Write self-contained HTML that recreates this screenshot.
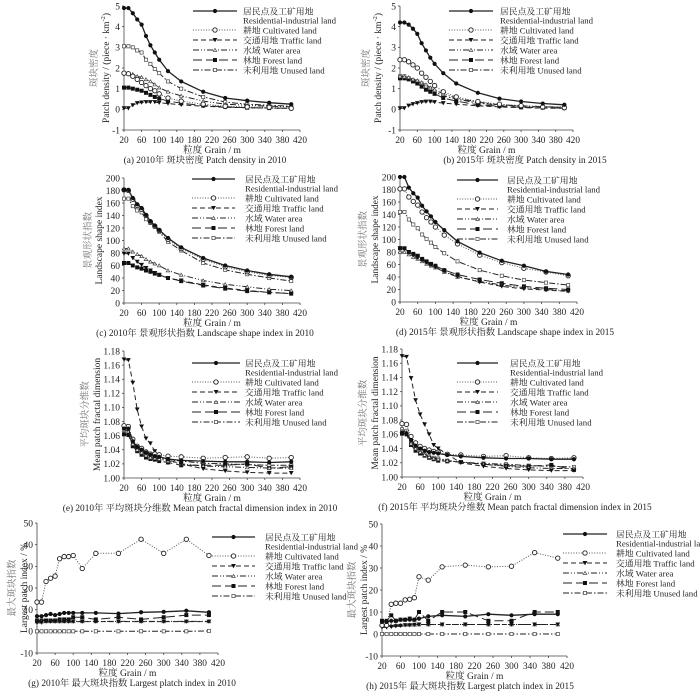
<!DOCTYPE html>
<html><head><meta charset="utf-8">
<style>
html,body{margin:0;padding:0;background:#fff;}
svg{display:block;}
text{font-family:"Liberation Serif","Noto Serif CJK SC",serif;fill:#222;}
</style></head>
<body>
<svg id="fig" width="700" height="692" viewBox="0 0 700 692" xmlns="http://www.w3.org/2000/svg"></svg>
<script>
const grains = [20,30,40,50,60,70,80,90,100,120,150,200,250,300,350,400];
const xTicks = [20,60,100,140,180,220,260,300,340,380,420];
const seriesNames = ["residential","cultivated","traffic","water","forest","unused"];
const legendCn = ["居民点及工矿用地","耕地","交通用地","水域","林地","未利用地"];
const legendEn = ["Residential-industrial land","Cultivated land","Traffic land","Water area","Forest land","Unused land"];

// (a) Patch density 2010
const pd2010_res = [4.9,4.9,4.65,4.35,4.1,3.55,3.1,2.75,2.4,1.85,1.35,0.85,0.55,0.42,0.32,0.25];
const pd2010_cult = [1.75,1.72,1.6,1.45,1.3,1.15,1.0,0.9,0.75,0.55,0.4,0.25,0.15,0.12,0.1,0.05];
const pd2010_traf = [0.05,0.05,0.2,0.3,0.33,0.35,0.35,0.35,0.32,0.28,0.22,0.15,0.1,0.08,0.06,0.05];
const pd2010_water = [1.75,1.75,1.7,1.6,1.55,1.45,1.35,1.2,1.05,0.85,0.65,0.4,0.25,0.2,0.15,0.12];
const pd2010_forest = [1.05,1.05,1.0,0.95,0.9,0.8,0.7,0.6,0.52,0.4,0.3,0.18,0.12,0.08,0.06,0.05];
const pd2010_unused = [3.05,3.05,3.0,2.85,2.75,2.4,2.2,1.95,1.75,1.35,1.0,0.6,0.35,0.25,0.2,0.15];
// (b) Patch density 2015
const pd2015_res = [4.2,4.2,4.1,3.9,3.65,3.2,2.85,2.5,2.2,1.75,1.25,0.8,0.52,0.38,0.28,0.22];
const pd2015_cult = [2.4,2.4,2.3,2.15,2.0,1.75,1.55,1.35,1.15,0.85,0.6,0.38,0.25,0.18,0.12,0.08];
const pd2015_traf = [0.05,0.05,0.18,0.25,0.3,0.35,0.37,0.37,0.35,0.3,0.25,0.17,0.12,0.08,0.06,0.05];
const pd2015_water = [1.6,1.58,1.55,1.45,1.4,1.3,1.2,1.05,0.95,0.75,0.55,0.35,0.22,0.17,0.13,0.1];
const pd2015_forest = [1.5,1.5,1.45,1.35,1.25,1.1,0.95,0.85,0.75,0.55,0.4,0.22,0.15,0.1,0.08,0.06];
const pd2015_unused = [1.6,1.6,1.5,1.4,1.35,1.25,1.1,1.0,0.85,0.65,0.5,0.3,0.2,0.15,0.12,0.1];
// (c) LSI 2010
const lsi2010_res = [181,181,168,158,152,141,131,124,117,104,89,72,60,52,46,42];
const lsi2010_cult = [181,180,166,156,150,140,130,123,116,102,87,70,58,50,44,41];
const lsi2010_traf = [79,79,72,66,61,56,52,48,45,40,36,29,24,20,17,15];
const lsi2010_water = [87,87,82,78,75,70,66,63,60,52,45,36,30,26,22,20];
const lsi2010_forest = [64,64,60,57,55,52,50,47,45,40,35,28,23,19,17,15];
const lsi2010_unused = [167,167,155,148,145,134,128,122,114,98,84,64,53,46,40,35];
// (d) LSI 2015
const lsi2015_res = [200,200,183,174,167,154,145,137,128,115,97,79,66,58,49,44];
const lsi2015_cult = [181,181,168,161,155,144,135,128,120,107,93,75,63,54,48,42];
const lsi2015_traf = [86,85,79,75,71,67,63,59,56,49,41,32,25,21,19,17];
const lsi2015_water = [80,80,76,72,69,65,61,58,55,48,40,33,27,23,20,18];
const lsi2015_forest = [86,86,80,77,74,69,65,61,58,51,44,36,30,25,22,20];
const lsi2015_unused = [144,144,132,124,118,108,101,95,88,78,65,51,42,35,31,27];
// (e) MPFD 2010
const mpfd2010_res = [1.07,1.07,1.052,1.044,1.04,1.036,1.033,1.031,1.03,1.027,1.025,1.024,1.023,1.023,1.022,1.023];
const mpfd2010_cult = [1.074,1.073,1.055,1.045,1.042,1.037,1.034,1.034,1.033,1.031,1.03,1.028,1.029,1.03,1.028,1.029];
const mpfd2010_traf = [1.168,1.167,1.135,1.097,1.073,1.056,1.049,1.038,1.032,1.026,1.02,1.013,1.01,1.008,1.007,1.007];
const mpfd2010_water = [1.068,1.066,1.048,1.04,1.036,1.032,1.029,1.028,1.027,1.024,1.02,1.017,1.016,1.015,1.014,1.014];
const mpfd2010_forest = [1.062,1.061,1.045,1.038,1.033,1.029,1.027,1.026,1.024,1.022,1.018,1.018,1.018,1.02,1.014,1.016];
const mpfd2010_unused = [1.072,1.07,1.05,1.042,1.038,1.034,1.031,1.029,1.028,1.026,1.024,1.021,1.02,1.019,1.018,1.018];
// (f) MPFD 2015
const mpfd2015_res = [1.062,1.061,1.052,1.044,1.04,1.037,1.035,1.034,1.033,1.031,1.029,1.027,1.026,1.026,1.025,1.025];
const mpfd2015_cult = [1.075,1.074,1.057,1.048,1.043,1.04,1.038,1.036,1.035,1.032,1.031,1.029,1.03,1.027,1.026,1.027];
const mpfd2015_traf = [1.17,1.169,1.139,1.108,1.088,1.074,1.06,1.045,1.04,1.032,1.02,1.015,1.012,1.01,1.009,1.009];
const mpfd2015_water = [1.065,1.063,1.047,1.04,1.035,1.031,1.028,1.026,1.025,1.023,1.021,1.018,1.015,1.013,1.012,1.012];
const mpfd2015_forest = [1.061,1.06,1.045,1.037,1.033,1.03,1.027,1.025,1.023,1.022,1.021,1.018,1.016,1.015,1.017,1.01];
const mpfd2015_unused = [1.067,1.065,1.05,1.042,1.036,1.032,1.029,1.027,1.026,1.023,1.021,1.019,1.018,1.016,1.015,1.014];
// (g) LPI 2010
const lpi2010_res = [7,7,7.5,8,7.5,8,8.5,8.5,8.5,8.5,8.5,8.2,8.8,9,9.5,8.8];
const lpi2010_cult = [13.5,13.5,23,24.5,25.5,33.5,34.5,34.5,35,29,36,36,42.5,36,42.5,35];
const lpi2010_traf = [4,4,4.5,4.5,4.5,4.5,4.5,4.5,4.5,4.5,4.5,4.5,4.5,4.5,4.5,4.5];
const lpi2010_water = [4.5,4.5,4.6,4.6,4.6,4.6,4.6,4.6,4.6,4.6,4.6,4.6,4.6,4.6,4.6,4.6];
const lpi2010_forest = [5,5,5,5,5,5.5,5.5,5.5,6.5,6.5,5.5,6.5,5.5,6.5,7.5,7.5];
const lpi2010_unused = [0,0,0,0,0,0,0,0,0,0,0,0,0,0,0,0.2];
// (h) LPI 2015
const lpi2015_res = [5.5,5.5,6,6,6.5,6.5,6.5,6.5,7,8,8.5,8,9,8.5,9,9];
const lpi2015_cult = [4,4,13.5,14,14,15.5,15.8,16.5,26,24.5,30.5,31.3,30.5,30.8,37,34.5];
const lpi2015_traf = [3,3,3.2,3.5,3.7,4,4,4.2,4.3,4.3,4.3,4.3,4.3,4.3,4.3,4.3];
const lpi2015_water = [4,4,4,4,4,4.2,4.2,4.2,4.3,4.3,4.3,4.3,4.3,4.3,4.3,4.3];
const lpi2015_forest = [6,6,8.5,6,6.5,6.5,7,6.5,10,6,10,10,6,6,10,10];
const lpi2015_unused = [0,0,0,0,0,0,0,0,0,0,0,0,0,0,0,0];

const ticksPD = [-1,0,1,2,3,4,5];
const ticksLSI = [0,20,40,60,80,100,120,140,160,180,200];
const ticksMPFD = [1.00,1.02,1.04,1.06,1.08,1.10,1.12,1.14,1.16,1.18];
const ticksLPI = [-10,0,10,20,30,40,50];

const NS="http://www.w3.org/2000/svg";
const svg=document.getElementById('fig');
function el(tag,attrs,parent){const e=document.createElementNS(NS,tag);for(const k in attrs)e.setAttribute(k,attrs[k]);(parent||svg).appendChild(e);return e;}

const styles=[
 {dash:"",w:1.3,m:"dot"},
 {dash:"1,1.6",w:1,m:"ocircle"},
 {dash:"5,3",w:1,m:"tri"},
 {dash:"6,2,1,2,1,2",w:1,m:"otri"},
 {dash:"9,4",w:1,m:"square"},
 {dash:"6,2,1.5,2",w:1,m:"osquare"}
];
function marker(g,type,x,y){
 let e;
 if(type==="dot"){e=el('circle',{cx:x,cy:y,r:2.1,fill:'#111'},g);}
 else if(type==="ocircle"){e=el('circle',{cx:x,cy:y,r:2.2,fill:'#fff',stroke:'#222','stroke-width':0.9},g);}
 else if(type==="tri"){e=el('path',{d:`M${x-2.4},${y-2} L${x+2.4},${y-2} L${x},${y+2.2}Z`,fill:'#111'},g);}
 else if(type==="otri"){e=el('path',{d:`M${x-1.8},${y+1.4} L${x+1.8},${y+1.4} L${x},${y-1.6}Z`,fill:'#fff',stroke:'#444','stroke-width':0.7},g);}
 else if(type==="square"){e=el('rect',{x:x-2,y:y-2,width:4,height:4,fill:'#111'},g);}
 else {e=el('rect',{x:x-1.6,y:y-1.6,width:3.2,height:3.2,fill:'#fff',stroke:'#444','stroke-width':0.7},g);}
 
 
}

function chart(cfg){
 const g=el('g',{});
 
 
 const xs=v=>cfg.x0+(v-20)/400*(cfg.x1-cfg.x0);
 const ys=v=>cfg.yB+(v-cfg.ymin)/(cfg.ymax-cfg.ymin)*(cfg.yT-cfg.yB);
 const ya=el('line',{x1:cfg.x0,y1:cfg.yT,x2:cfg.x0,y2:cfg.yB,stroke:'#444','stroke-width':0.8},g);
 
 const xa=el('line',{x1:cfg.x0,y1:cfg.yB,x2:cfg.x1,y2:cfg.yB,stroke:'#444','stroke-width':0.8},g);
 
 cfg.yticks.forEach(t=>{
  const y=ys(t);
  el('line',{x1:cfg.x0-2,y1:y,x2:cfg.x0,y2:y,stroke:'#444','stroke-width':0.8},g);
  const tx=el('text',{x:cfg.x0-4,y:y+3.3,'font-size':9.5,'text-anchor':'end'},g);
  tx.textContent=cfg.fmt(t);
  
 });
 xTicks.forEach(t=>{
  const x=xs(t);
  el('line',{x1:x,y1:cfg.yB,x2:x,y2:cfg.yB+2,stroke:'#444','stroke-width':0.8},g);
  const tx=el('text',{x:x,y:cfg.yB+13,'font-size':9.3,'text-anchor':'middle'},g);
  tx.textContent=t;
  
 });
 const xt=el('text',{x:(cfg.x0+cfg.x1)/2,y:cfg.yB+23,'font-size':9.5,'text-anchor':'middle'},g);
 xt.textContent='粒度 Grain / m';
 
 const cap=el('text',{x:cfg.capX,y:cfg.yB+33,'font-size':9.3,'text-anchor':'middle'},g);
 cap.textContent=cfg.caption;
 
 const ymid=(cfg.yT+cfg.yB)/2;
 const t1=el('text',{x:0,y:0,'font-size':9.5,'text-anchor':'middle',transform:`translate(${cfg.ytx1},${ymid}) rotate(-90)`,style:'fill:#777'},g);
 t1.textContent=cfg.ycn;
 
 const t2=el('text',{x:0,y:0,'font-size':9.5,'text-anchor':'middle',transform:`translate(${cfg.ytx2},${ymid}) rotate(-90)`},g);
 if(cfg.yenSup){t2.textContent=cfg.yen;const ts=el('tspan',{dy:-4,'font-size':6.5},t2);ts.textContent='-2';const ts2=el('tspan',{dy:4},t2);ts2.textContent=')';}
 else t2.textContent=cfg.yen;
 
 [5,4,3,2,1,0].forEach(i=>{
  const data=cfg.series[i],st=styles[i];
  const sg=el('g',{},g);
  
  
  const d=data.map((v,k)=>(k?'L':'M')+xs(grains[k]).toFixed(1)+','+ys(v).toFixed(1)).join(' ');
  const p=el('path',{d:d,fill:'none',stroke:i===1?'#555':'#222','stroke-width':st.w,'stroke-dasharray':st.dash},sg);
  
  data.forEach((v,k)=>marker(sg,st.m,xs(grains[k]),ys(v)));
 });
 const lg=el('g',{},g);
 
 const rows=[0,19,29,39,49,59];
 for(let i=0;i<6;i++){
  const y=cfg.ly+rows[i];const st=styles[i];
  const eg=el('g',{},lg);
  
  el('line',{x1:cfg.lx1,y1:y,x2:cfg.lx2,y2:y,stroke:i===1?'#555':'#222','stroke-width':st.w,'stroke-dasharray':st.dash},eg);
  marker(eg,st.m,(cfg.lx1+cfg.lx2)/2,y);
  const t=el('text',{x:cfg.ltx,y:y+3.3,'font-size':8.8},eg);
  if(i===0){t.textContent=legendCn[0];const t2=el('text',{x:cfg.ltx,y:y+12.5,'font-size':8.8},eg);t2.textContent=legendEn[0];}
  else t.textContent=legendCn[i]+'  '+legendEn[i];
 }
}

const fmtInt=v=>String(v), fmt2=v=>v.toFixed(2);
chart({name:'chart-a',x0:124,x1:300,yT:6,yB:130,ymin:-1,ymax:5,yticks:ticksPD,fmt:fmtInt,
 series:[pd2010_res,pd2010_cult,pd2010_traf,pd2010_water,pd2010_forest,pd2010_unused],
 caption:'(a) 2010年 斑块密度 Patch density in 2010',capX:205,ycn:'斑块密度',yen:'Patch density / (piece · km',yenSup:true,ytx1:97,ytx2:109,
 lx1:193,lx2:237,ltx:243,ly:11});
chart({name:'chart-b',x0:400,x1:573,yT:6,yB:130,ymin:-1,ymax:5,yticks:ticksPD,fmt:fmtInt,
 series:[pd2015_res,pd2015_cult,pd2015_traf,pd2015_water,pd2015_forest,pd2015_unused],
 caption:'(b) 2015年 斑块密度 Patch density in 2015',capX:525,ycn:'斑块密度',yen:'Patch density / (piece · km',yenSup:true,ytx1:369,ytx2:381,
 lx1:449,lx2:493,ltx:500,ly:11});
chart({name:'chart-c',x0:124,x1:300,yT:178,yB:303,ymin:0,ymax:200,yticks:ticksLSI,fmt:fmtInt,
 series:[lsi2010_res,lsi2010_cult,lsi2010_traf,lsi2010_water,lsi2010_forest,lsi2010_unused],
 caption:'(c) 2010年 景观形状指数 Landscape shape index in 2010',capX:205,ycn:'景观形状指数',yen:'Landscape shape index',ytx1:91,ytx2:102,
 lx1:192,lx2:235,ltx:245,ly:179});
chart({name:'chart-d',x0:400,x1:577,yT:177,yB:302,ymin:0,ymax:200,yticks:ticksLSI,fmt:fmtInt,
 series:[lsi2015_res,lsi2015_cult,lsi2015_traf,lsi2015_water,lsi2015_forest,lsi2015_unused],
 caption:'(d) 2015年 景观形状指数 Landscape shape index in 2015',capX:505,ycn:'景观形状指数',yen:'Landscape shape index',ytx1:366,ytx2:378,
 lx1:457,lx2:498,ltx:507,ly:180});
chart({name:'chart-e',x0:124,x1:300,yT:351,yB:478,ymin:1.0,ymax:1.18,yticks:ticksMPFD,fmt:fmt2,
 series:[mpfd2010_res,mpfd2010_cult,mpfd2010_traf,mpfd2010_water,mpfd2010_forest,mpfd2010_unused],
 caption:'(e) 2010年 平均斑块分维数  Mean patch fractal dimension index in 2010',capX:200,ycn:'平均斑块分维数',yen:'Mean patch fractal dimension',ytx1:88,ytx2:100,
 lx1:192,lx2:240,ltx:245,ly:363});
chart({name:'chart-f',x0:402,x1:583,yT:349,yB:477,ymin:1.0,ymax:1.18,yticks:ticksMPFD,fmt:fmt2,
 series:[mpfd2015_res,mpfd2015_cult,mpfd2015_traf,mpfd2015_water,mpfd2015_forest,mpfd2015_unused],
 caption:'(f) 2015年 平均斑块分维数  Mean patch fractal dimension index in 2015',capX:515,ycn:'平均斑块分维数',yen:'Mean patch fractal dimension',ytx1:366,ytx2:378,
 lx1:457,lx2:498,ltx:510,ly:363});
chart({name:'chart-g',x0:37,x1:218,yT:523,yB:653,ymin:-10,ymax:50,yticks:ticksLPI,fmt:fmtInt,
 series:[lpi2010_res,lpi2010_cult,lpi2010_traf,lpi2010_water,lpi2010_forest,lpi2010_unused],
 caption:'(g) 2010年 最大斑块指数 Largest platch index in 2010',capX:132,ycn:'最大斑块指数',yen:'Largest patch index / %',ytx1:15,ytx2:27,
 lx1:212,lx2:255,ltx:265,ly:537});
chart({name:'chart-h',x0:382,x1:567,yT:524,yB:656,ymin:-10,ymax:50,yticks:ticksLPI,fmt:fmtInt,
 series:[lpi2015_res,lpi2015_cult,lpi2015_traf,lpi2015_water,lpi2015_forest,lpi2015_unused],
 caption:'(h) 2015年 最大斑块指数 Largest platch index in 2015',capX:470,ycn:'最大斑块指数',yen:'Largest patch index / %',ytx1:355,ytx2:367,
 lx1:563,lx2:607,ltx:616,ly:534});
</script>
</body></html>
